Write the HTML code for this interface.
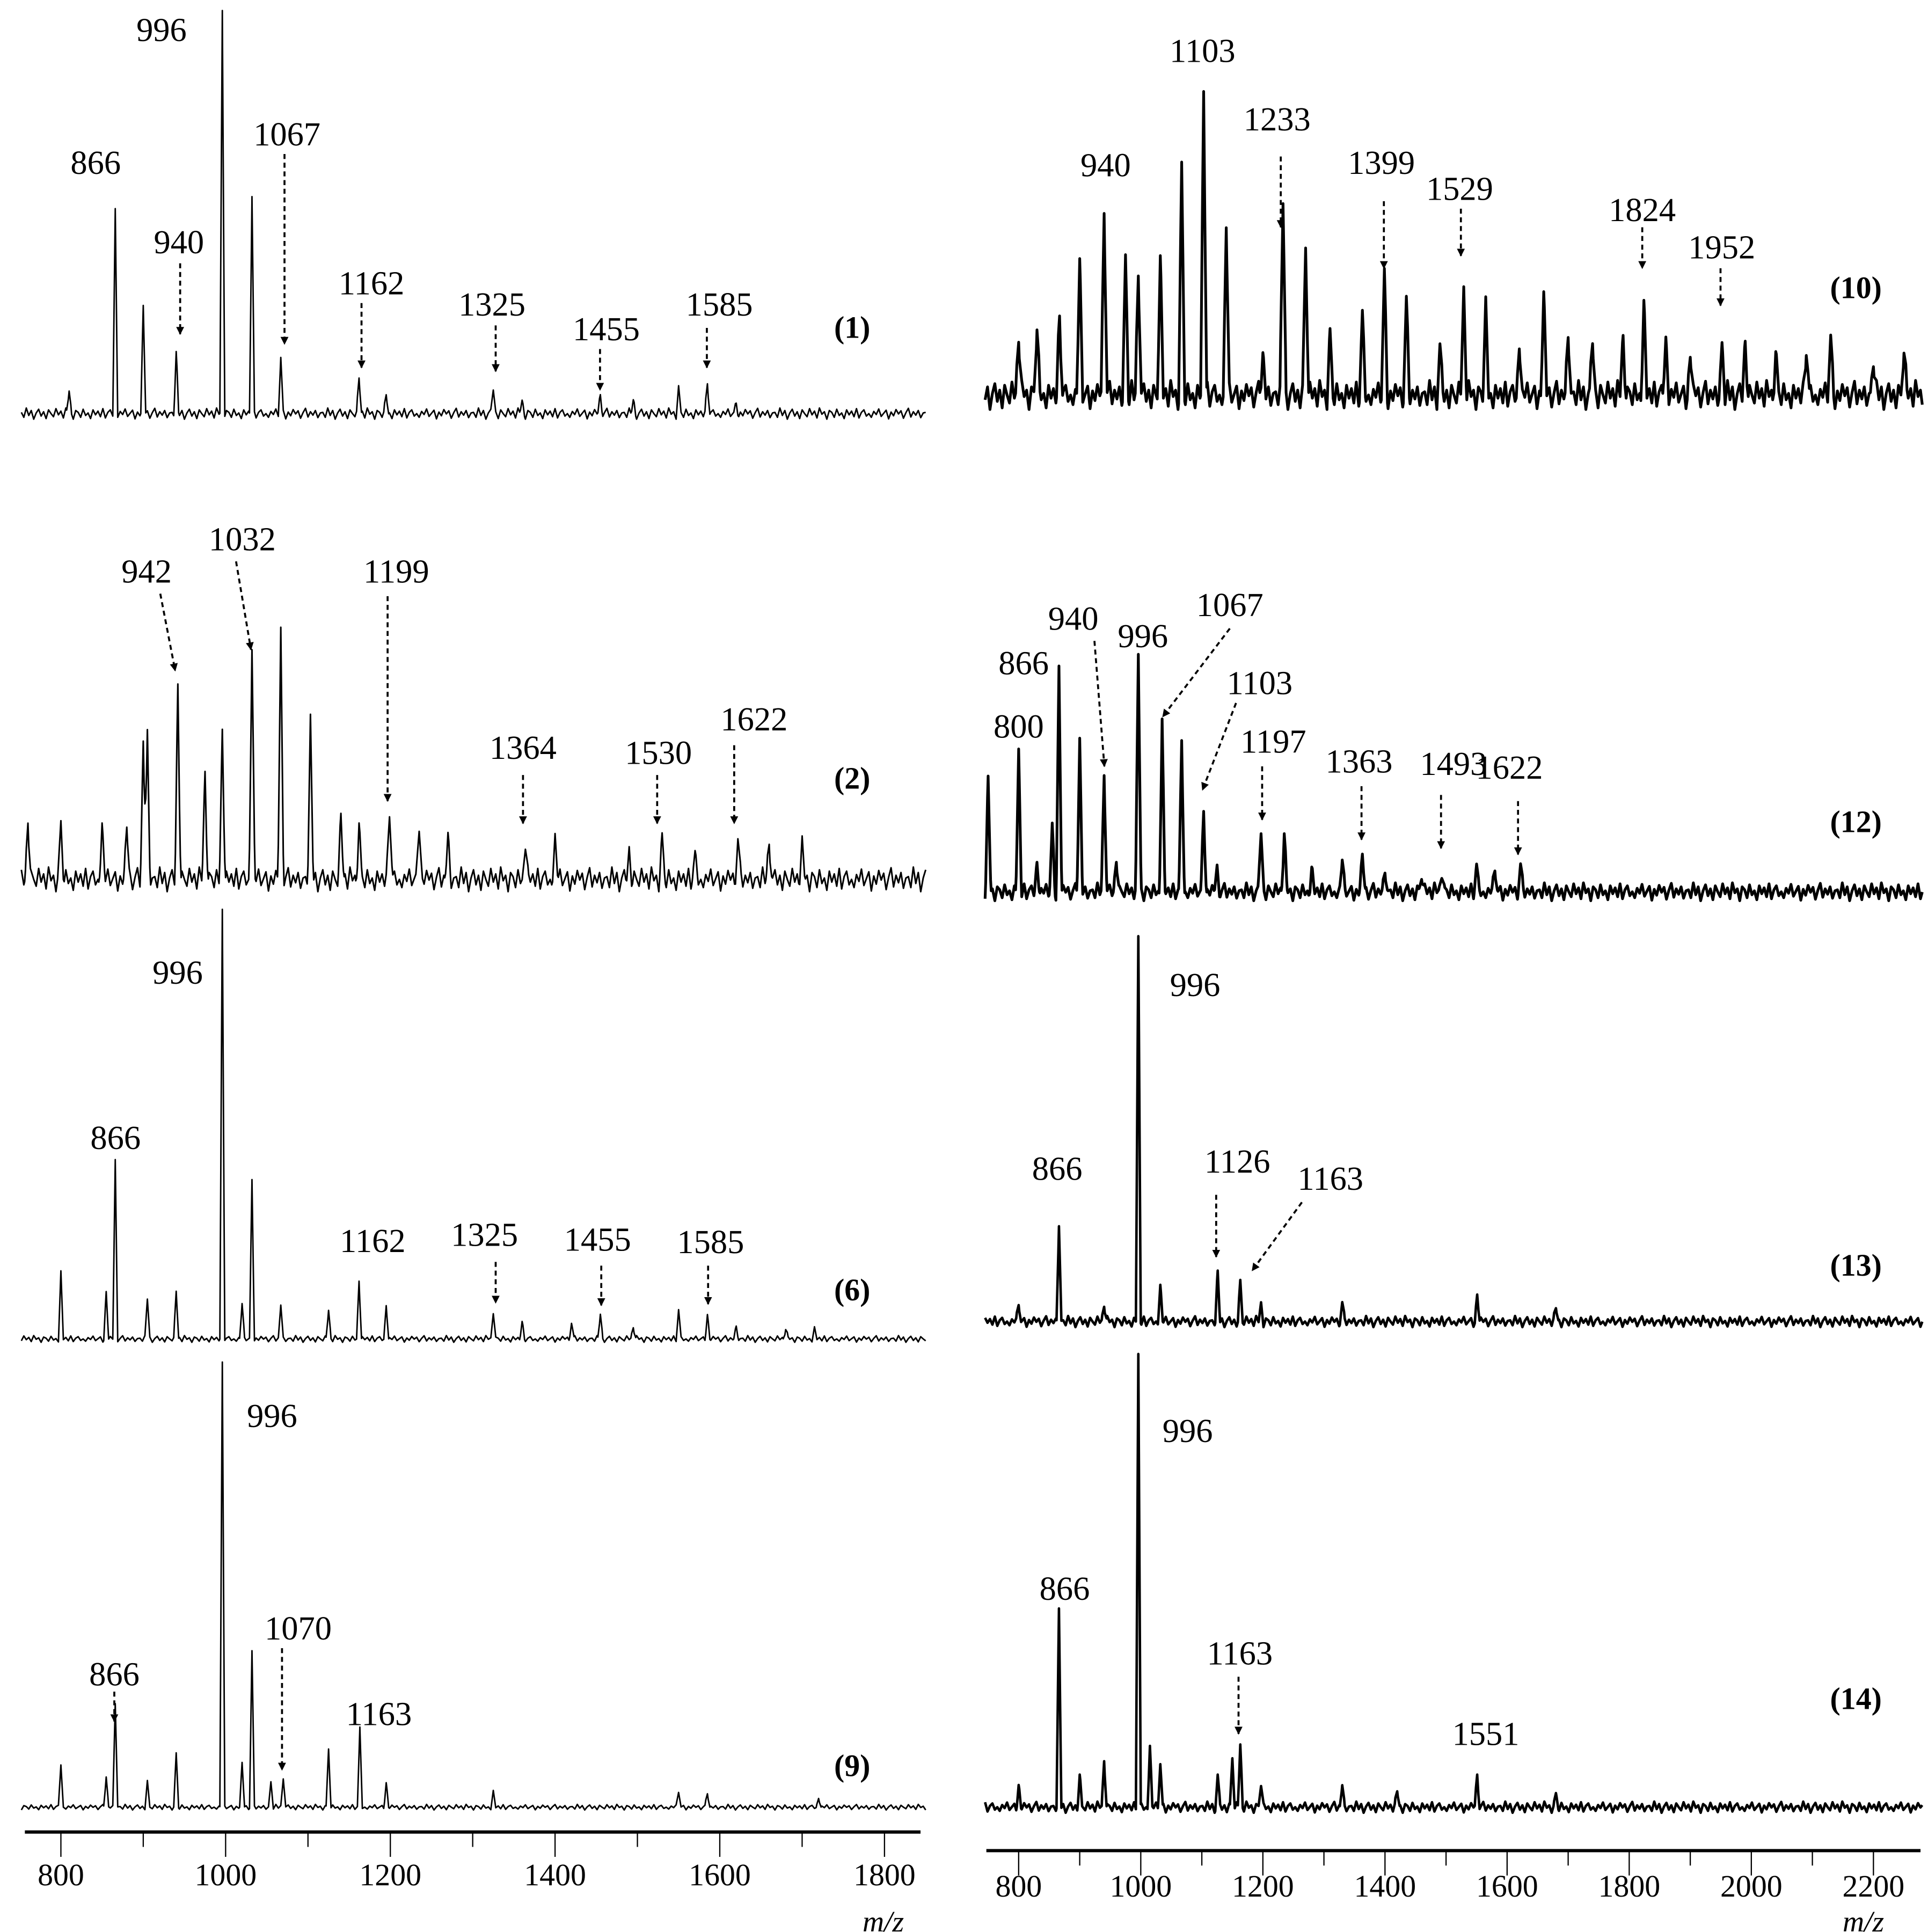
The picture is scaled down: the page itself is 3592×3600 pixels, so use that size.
<!DOCTYPE html>
<html><head><meta charset="utf-8"><style>
html,body{margin:0;padding:0;background:#fff}
svg{display:block}
text{font-family:"Liberation Serif",serif;fill:#000}
</style></head><body>
<svg id="chart" width="3592" height="3600" viewBox="0 0 1552 1555.5" xmlns="http://www.w3.org/2000/svg">
<defs><marker id="ah" viewBox="0 0 10 10" refX="9" refY="5" markerWidth="4" markerHeight="5" orient="auto"><path d="M0,0 L10,5 L0,10 z" fill="#000"/></marker></defs>
<g id="layer"></g>
</svg>
<script>
// ---- data ----
const noisePattern = [0.2,-0.6,0.9,-0.3,0.5,-0.9,0.1,0.7,-0.4,0.3,-0.8,0.6,0.0,-0.5,0.8,-0.2,0.4,-0.7,0.9,-0.1,0.3,-0.9,0.5,0.2,-0.6,0.7,-0.3,0.1,-0.8,0.6,-0.2,0.4,-0.5,0.8,-0.7,0.2,0.6,-0.4,0.0,-0.6,0.35,-0.15,0.75,-0.45,0.05,0.55,-0.85,0.25,-0.35,0.65,-0.05,0.45,-0.75,0.15,0.85,-0.55,0.3,-0.25,0.5,-0.65,0.1];

const p1_mz = [810,866,900,940,996,1032,1067,1162,1195,1325,1360,1455,1495,1550,1585,1620];
const p1_h  = [18,165,85,48,325,175,45,28,15,21,10,15,10,20,25,8];
const p2_mz = [760,800,850,880,900,905,942,975,996,1032,1067,1103,1140,1162,1199,1235,1270,1364,1400,1490,1530,1570,1622,1660,1700];
const p2_h  = [50,45,45,40,110,115,158,88,123,188,198,123,48,45,58,48,35,33,33,23,33,18,31,33,25];
const p6_mz = [800,855,866,905,940,996,1020,1032,1067,1125,1162,1195,1325,1360,1420,1455,1495,1550,1585,1620,1680,1715];
const p6_h  = [53,38,143,33,38,345,28,128,28,23,48,28,23,13,13,20,10,23,20,10,8,8];
const p9_mz = [800,855,866,905,940,996,1020,1032,1055,1070,1125,1163,1195,1325,1550,1585,1720];
const p9_h  = [35,25,85,20,43,358,35,125,20,25,47,63,20,12,13,11,8];
const p10_mz = [800,830,867,900,940,975,996,1032,1067,1103,1140,1200,1233,1270,1310,1363,1399,1435,1490,1529,1565,1620,1660,1700,1740,1790,1824,1860,1900,1952,1990,2040,2090,2130,2200,2250];
const p10_h  = [48,56,63,103,152,111,103,106,183,245,135,33,158,120,48,63,98,73,38,82,70,43,78,51,43,48,73,48,33,40,43,33,38,46,28,36];
const p12_mz = [750,800,830,855,866,900,940,960,996,1035,1067,1103,1125,1197,1235,1280,1330,1363,1400,1460,1493,1550,1580,1622];
const p12_h  = [88,113,25,53,181,123,98,28,190,140,121,66,18,50,46,18,25,28,18,13,18,20,18,20];
const p13_mz = [800,866,940,996,1032,1126,1163,1197,1330,1551,1680];
const p13_h  = [14,79,14,309,29,38,32,14,14,22,10];
const p14_mz = [800,866,900,940,996,1015,1032,1126,1150,1163,1197,1330,1420,1551,1680];
const p14_h  = [18,157,25,40,365,50,35,25,40,50,20,18,12,27,10];

const leftTicks = [800,1000,1200,1400,1600,1800];
const rightTicks = [800,1000,1200,1400,1600,1800,2000,2200];

// ---- scales ----
const xL = m => 49 + (m-800)*0.663;
const xR = m => 820 + (m-800)*0.4915;
const NS = 'http://www.w3.org/2000/svg';
const layer = document.getElementById('layer');
function el(tag, attrs, parent){const e=document.createElementNS(NS,tag);for(const k in attrs)e.setAttribute(k,attrs[k]);(parent||layer).appendChild(e);return e;}

function spectrum(name, mzs, hs, xs, mzMin, mzMax, base, amp, w, sw, phase, step){
  let d='';
  const L=noisePattern.length;
  for(let m=mzMin;m<=mzMax;m+=1){
    const idx=(m-mzMin)/step+phase, i0=Math.floor(idx), f=idx-i0;
    const n0=noisePattern[((i0%L)+L)%L], n1=noisePattern[(((i0+1)%L)+L)%L];
    let y=base-amp*(n0*(1-f)+n1*f);
    for(let k=0;k<mzs.length;k++){const dm=Math.abs(m-mzs[k]);if(dm<w)y-=hs[k]*(1-dm/w);}
    d+=(d?'L':'M')+xs(m).toFixed(2)+','+y.toFixed(2);
  }
  const p=el('path',{d:d,fill:'none',stroke:'#000','stroke-width':sw,'stroke-linejoin':'round'});
  
  
}
spectrum('spectrum-1',p1_mz,p1_h,xL,752,1850,333,5,3,1.2,0,3);
spectrum('spectrum-2',p2_mz,p2_h,xL,752,1850,708,11,3.5,1.3,7,3);
spectrum('spectrum-6',p6_mz,p6_h,xL,752,1850,1078,3,3,1.2,13,3);
spectrum('spectrum-9',p9_mz,p9_h,xL,752,1850,1455,2.5,3,1.2,21,3);
spectrum('spectrum-10',p10_mz,p10_h,xR,745,2280,318,13,5,2.2,3,4);
spectrum('spectrum-12',p12_mz,p12_h,xR,745,2280,718,8,4.5,2.2,17,4);
spectrum('spectrum-13',p13_mz,p13_h,xR,745,2280,1064,5,4,2.0,29,4);
spectrum('spectrum-14',p14_mz,p14_h,xR,745,2280,1455,5,4,2.0,33,4);

// ---- annotations ----
const labels = [
 ['866',77,140,null],['996',130,33,null],['1067',231,117,[229,124,229,277]],['940',144,204,[145,212,145,269]],
 ['1162',299,237,[291,244,291,296]],['1325',396,254,[399,262,399,299]],['1455',488,274,[483,281,483,314]],['1585',579,254,[569,264,569,296]],
 ['942',118,469,[129,478,141,540]],['1032',195,443,[190,452,202,523]],['1199',319,469,[312,480,312,645]],
 ['1364',421,611,[421,624,421,663]],['1530',530,615,[529,624,529,663]],['1622',607,588,[591,600,591,663]],
 ['996',143,792,null],['866',93,925,null],['1162',300,1008,null],['1325',390,1003,[399,1016,399,1049]],
 ['1455',481,1007,[484,1019,484,1051]],['1585',572,1009,[570,1019,570,1050]],
 ['996',219,1149,null],['866',92,1357,[92,1362,92,1386]],['1070',240,1320,[227,1327,227,1425]],['1163',305,1389,null],
 ['1103',968,50,null],['940',890,142,null],['1233',1028,105,[1031,126,1031,183]],['1399',1112,140,[1114,162,1114,216]],
 ['1529',1175,161,[1176,168,1176,206]],['1824',1322,178,[1322,183,1322,216]],['1952',1386,208,[1385,216,1385,246]],
 ['800',820,594,null],['866',824,543,null],['940',864,507,[881,516,889,617]],['996',920,521,null],
 ['1067',990,496,[990,506,936,577]],['1103',1014,559,[995,566,968,636]],['1197',1025,606,[1016,617,1016,660]],
 ['1363',1094,622,[1096,633,1096,676]],['1493',1170,624,[1160,640,1160,683]],['1622',1215,627,[1222,645,1222,688]],
 ['996',962,802,null],['866',851,950,null],['1126',996,944,[979,962,979,1012]],['1163',1071,958,[1048,968,1008,1023]],
 ['996',956,1161,null],['866',857,1288,null],['1163',998,1340,[997,1350,997,1396]],['1551',1196,1405,null]
];
labels.forEach(l=>{
  const t=el('text',{x:l[1],y:l[2],'text-anchor':'middle','font-size':27});
  t.textContent=l[0];
  
  
  if(l[3]){const a=l[3];
    const ln=el('line',{x1:a[0],y1:a[1],x2:a[2],y2:a[3],stroke:'#000','stroke-width':1.6,'stroke-dasharray':'4,3','marker-end':'url(#ah)'});
    
    
  }
});
const ids = [['(1)',686,272],['(2)',686,635],['(6)',686,1047],['(9)',686,1430],['(10)',1494,240],['(12)',1494,670],['(13)',1494,1027],['(14)',1494,1376]];
ids.forEach(s=>{
  const t=el('text',{x:s[1],y:s[2],'text-anchor':'middle','font-size':25,'font-weight':'bold'});
  t.textContent=s[0];
  
  
});

// ---- axes ----
function axis(name, xs, ticks, x0, x1, y, ly, mx){
  const a=el('line',{x1:x0,y1:y,x2:x1,y2:y,stroke:'#000','stroke-width':2.6});
  
  
  ticks.forEach((v,i)=>{
    const tk=el('line',{x1:xs(v),y1:y,x2:xs(v),y2:y+20,stroke:'#000','stroke-width':1});
    
    
    if(xs(v+100)<x1){
      const mn=el('line',{x1:xs(v+100),y1:y,x2:xs(v+100),y2:y+12,stroke:'#000','stroke-width':1});
      
      
    }
    const t=el('text',{x:xs(v),y:ly,'text-anchor':'middle','font-size':25});
    t.textContent=v;
    
    
  });
  const t=el('text',{x:mx,y:1555,'text-anchor':'middle','font-size':24,'font-style':'italic'});
  t.textContent='m/z';
  
  
}
axis('left-x-axis',xL,leftTicks,20,741,1475,1518,711);
axis('right-x-axis',xR,rightTicks,794,1546,1490,1527,1500);
</script>
</body></html>
